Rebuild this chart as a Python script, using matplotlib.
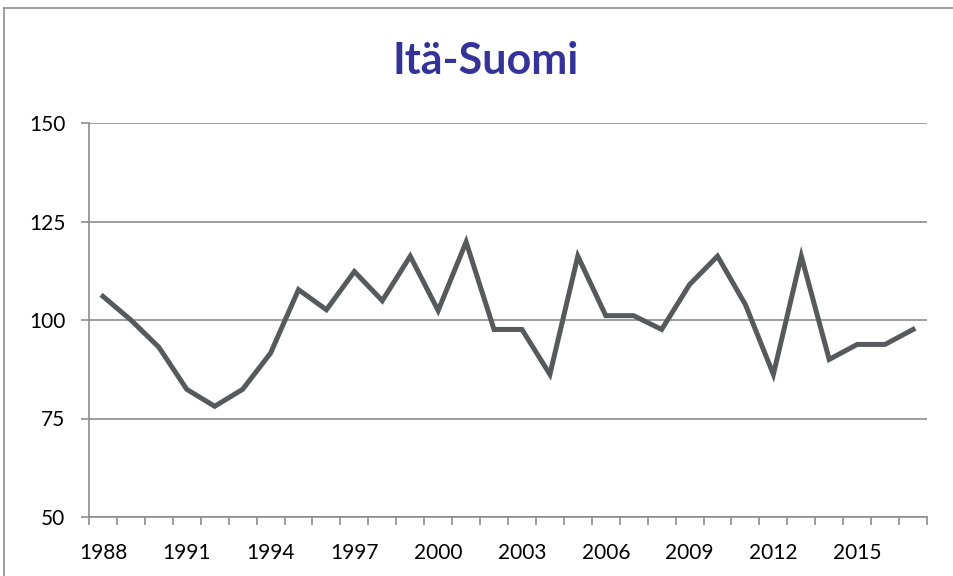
import matplotlib
matplotlib.use("Agg")
import matplotlib.pyplot as plt
from matplotlib.lines import Line2D
import numpy as np

years = list(range(1988, 2018))
values = [106.0, 100.0, 93.1, 82.4, 78.1, 82.4, 91.6, 107.7, 102.6, 112.3,
          104.9, 116.2, 102.4, 119.8, 97.6, 97.6, 86.2, 116.2, 101.1, 101.1,
          97.6, 109.0, 116.2, 103.9, 86.2, 116.2, 90.0, 93.8, 93.8, 97.6]
title = "Itä-Suomi"
yticks = [50, 75, 100, 125, 150]

W, H = 954, 576
fig = plt.figure(figsize=(W / 100, H / 100), dpi=100)
ax = fig.add_axes([89 / W, 1 - 517 / H, (927 - 89) / W, (517 - 123) / H])

x = np.arange(len(years))
ax.plot(x, values, color="#575a5d", linewidth=3.6, solid_joinstyle="miter", zorder=3)

ax.set_xlim(-0.5, len(years) - 0.5)
ax.set_ylim(50, 150)
ax.set_yticks(yticks)
ax.yaxis.grid(True, color="#8c8c8c", linewidth=1.2)
ax.set_axisbelow(True)

lab_idx = [i for i, y in enumerate(years) if (y - 1988) % 3 == 0]
ax.set_xticks(lab_idx)
ax.set_xticklabels([str(years[i]) for i in lab_idx])
ax.set_xticks(np.arange(-0.5, len(years)), minor=True)
ax.tick_params(axis="x", which="major", length=0, pad=19, labelsize=15)
ax.tick_params(axis="x", which="minor", length=6, color="#8c8c8c", width=1.2)
ax.tick_params(axis="y", length=6, color="#8c8c8c", width=1.2, labelsize=15, pad=11)

for s in ["top", "right"]:
    ax.spines[s].set_visible(False)
for s in ["left", "bottom"]:
    ax.spines[s].set_color("#8c8c8c")
    ax.spines[s].set_linewidth(1.2)

for lab in ax.get_xticklabels() + ax.get_yticklabels():
    lab.set_fontfamily("Lato")

fig.text(486 / W, 1 - 61 / H, title, ha="center", va="center", fontsize=31,
         fontweight="bold", color="#333399", family="Lato")

fig.add_artist(Line2D([4 / W, 1], [1 - 8 / H, 1 - 8 / H], color="#8c8c8c", linewidth=1.2))
fig.add_artist(Line2D([4 / W, 4 / W], [0, 1 - 8 / H], color="#8c8c8c", linewidth=1.2))

fig.savefig("out.png", dpi=100)
